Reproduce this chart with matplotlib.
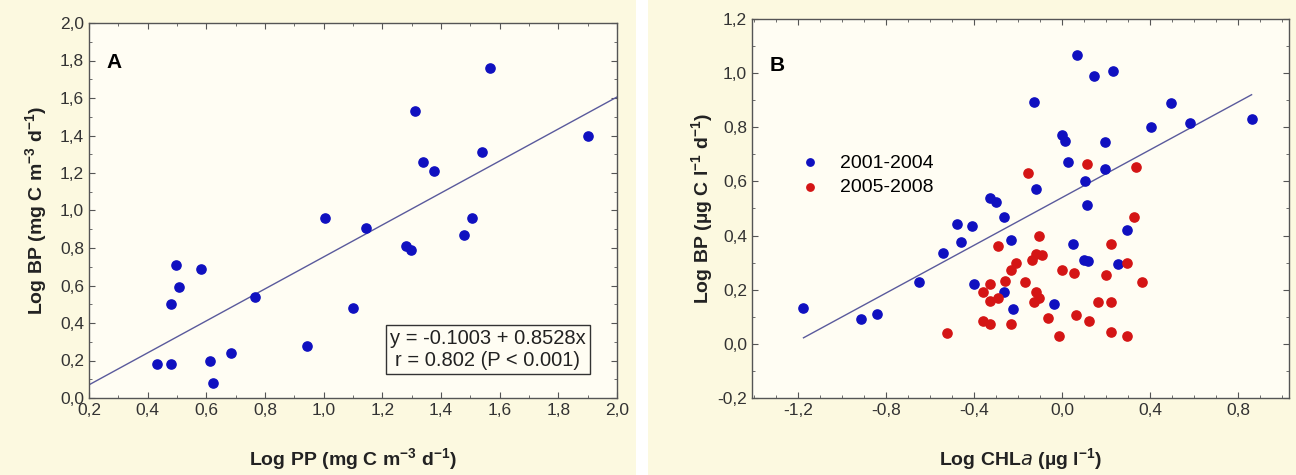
import numpy as np
import matplotlib.pyplot as plt
from matplotlib.patches import Rectangle
from matplotlib.ticker import MultipleLocator, FuncFormatter

plt.rcParams['font.family'] = ['Liberation Sans', 'DejaVu Sans']
plt.rcParams['mathtext.default'] = 'regular'

# panel A: log PP vs log BP
pp_x = [1.568, 1.310, 1.901, 1.540, 1.340, 1.376, 1.003, 1.507, 1.143, 1.479,
        1.281, 1.299, 0.495, 0.582, 0.506, 0.478, 0.767, 1.101, 0.944, 0.432,
        0.481, 0.614, 0.684, 0.622]
pp_y = [1.76, 1.53, 1.40, 1.31, 1.26, 1.21, 0.96, 0.96, 0.906, 0.87,
        0.81, 0.79, 0.71, 0.69, 0.59, 0.50, 0.54, 0.48, 0.28, 0.18,
        0.18, 0.20, 0.24, 0.08]
fit_a = (-0.1003, 0.8528)

# panel B: log CHLa vs log BP
blue_x = [0.067, 0.146, 0.232, -0.130, 0.495, 0.580, 0.860, 0.401, -0.002, 0.011,
          0.193, 0.024, 0.193, 0.105, -0.121, -0.327, -0.303, 0.110, -0.265, -0.478,
          -0.410, 0.292, -0.459, -0.234, 0.048, -0.543, 0.100, 0.115, 0.255, -0.650,
          -0.403, -0.265, -0.036, -0.224, -1.176, -0.915, -0.840]
blue_y = [1.067, 0.990, 1.007, 0.894, 0.890, 0.816, 0.831, 0.800, 0.772, 0.751,
          0.745, 0.671, 0.647, 0.601, 0.573, 0.539, 0.524, 0.512, 0.469, 0.442,
          0.436, 0.422, 0.376, 0.385, 0.370, 0.335, 0.310, 0.305, 0.296, 0.230,
          0.221, 0.193, 0.147, 0.130, 0.132, 0.091, 0.109]
red_x = [-0.158, 0.114, 0.334, 0.326, -0.106, -0.294, 0.221, -0.121, -0.093, -0.137,
         -0.209, 0.292, -0.234, 0.000, 0.054, 0.199, -0.262, 0.364, -0.168, -0.327,
         -0.361, -0.121, -0.290, -0.327, -0.130, -0.106, 0.161, 0.221, 0.061, -0.065,
         0.120, -0.361, -0.327, -0.234, -0.525, -0.014, 0.221, 0.292]
red_y = [0.632, 0.663, 0.655, 0.469, 0.399, 0.361, 0.368, 0.333, 0.327, 0.308,
         0.298, 0.298, 0.271, 0.271, 0.261, 0.256, 0.234, 0.227, 0.227, 0.221,
         0.190, 0.190, 0.171, 0.159, 0.155, 0.171, 0.155, 0.155, 0.106, 0.097,
         0.084, 0.084, 0.072, 0.072, 0.041, 0.029, 0.045, 0.029]
fit_b = (0.541, 0.441)
groups = ['2001-2004', '2005-2008']

blue = '#1010c0'
red = '#d41515'
linec = '#5a5a9c'
axbg = '#fffdf3'
outbg = '#fcf9e0'

comma = FuncFormatter(lambda v, p: ('%.1f' % v).replace('.', ','))

fig = plt.figure(figsize=(12.96, 4.75), dpi=100)
fig.patch.set_facecolor('white')
fig.patches.append(Rectangle((0, 0), 636 / 1296, 1, transform=fig.transFigure,
                             facecolor=outbg, edgecolor='none', zorder=-10))
fig.patches.append(Rectangle((648 / 1296, 0), 648 / 1296, 1, transform=fig.transFigure,
                             facecolor=outbg, edgecolor='none', zorder=-10))

axA = fig.add_axes([89 / 1296, 1 - 398 / 475, 528 / 1296, 375 / 475])
axB = fig.add_axes([752 / 1296, 1 - 398 / 475, 537 / 1296, 379 / 475])


def style(ax):
    ax.set_facecolor(axbg)
    for s in ax.spines.values():
        s.set_color('#555555')
        s.set_linewidth(1.0)
    ax.tick_params(which='both', direction='in', top=True, right=True,
                   colors='#555555', labelcolor='#333333', labelsize=12.5)
    ax.tick_params(which='major', length=4)
    ax.tick_params(which='minor', length=2)
    ax.xaxis.set_major_formatter(comma)
    ax.yaxis.set_major_formatter(comma)


# panel A
style(axA)
axA.scatter(pp_x, pp_y, s=44, color=blue, zorder=3)
xa = np.array([0.2, 2.0])
axA.plot(xa, fit_a[0] + fit_a[1] * xa, color=linec, lw=1.0, zorder=2)
axA.set_xlim(0.2, 2.0)
axA.set_ylim(0.0, 2.0)
axA.xaxis.set_major_locator(MultipleLocator(0.2))
axA.yaxis.set_major_locator(MultipleLocator(0.2))
axA.xaxis.set_minor_locator(MultipleLocator(0.1))
axA.yaxis.set_minor_locator(MultipleLocator(0.1))
axA.set_xlabel('Log PP (mg C m$^{-3}$ d$^{-1}$)', fontsize=14, fontweight='bold',
               color='#222222', labelpad=20)
axA.set_ylabel('Log BP (mg C m$^{-3}$ d$^{-1}$)', fontsize=14, fontweight='bold',
               color='#222222', labelpad=8)
axA.text(0.26, 1.79, 'A', fontsize=15, fontweight='bold', va='center')
axA.text(1.56, 0.259, 'y = -0.1003 + 0.8528x\nr = 0.802 (P < 0.001)', fontsize=14.5,
         ha='center', va='center', linespacing=1.25, color='#222222',
         bbox=dict(boxstyle='square,pad=0.2', facecolor=axbg, edgecolor='#333333', lw=1.0))

# panel B
style(axB)
axB.scatter(blue_x, blue_y, s=44, color=blue, zorder=3, label=groups[0])
axB.scatter(red_x, red_y, s=44, color=red, zorder=3, label=groups[1])
xb = np.array([min(blue_x + red_x), max(blue_x + red_x)])
axB.plot(xb, fit_b[0] + fit_b[1] * xb, color=linec, lw=1.0, zorder=2)
axB.set_xlim(-1.41, 1.03)
axB.set_ylim(-0.2, 1.2)
axB.xaxis.set_major_locator(MultipleLocator(0.4))
axB.yaxis.set_major_locator(MultipleLocator(0.2))
axB.xaxis.set_minor_locator(MultipleLocator(0.1))
axB.yaxis.set_minor_locator(MultipleLocator(0.1))
axB.set_xlabel('Log CHL$\\it{a}$ (µg l$^{-1}$)', fontsize=14, fontweight='bold',
               color='#222222', labelpad=20)
axB.set_ylabel('Log BP (µg C l$^{-1}$ d$^{-1}$)', fontsize=14, fontweight='bold',
               color='#222222', labelpad=2)
axB.text(-1.33, 1.03, 'B', fontsize=15, fontweight='bold', va='center')
axB.legend(loc='upper left', bbox_to_anchor=(0.04, 0.69), frameon=False, fontsize=14,
           handletextpad=0.5, labelspacing=0.35, markerscale=0.8)

fig.savefig('out.png', dpi=100)
